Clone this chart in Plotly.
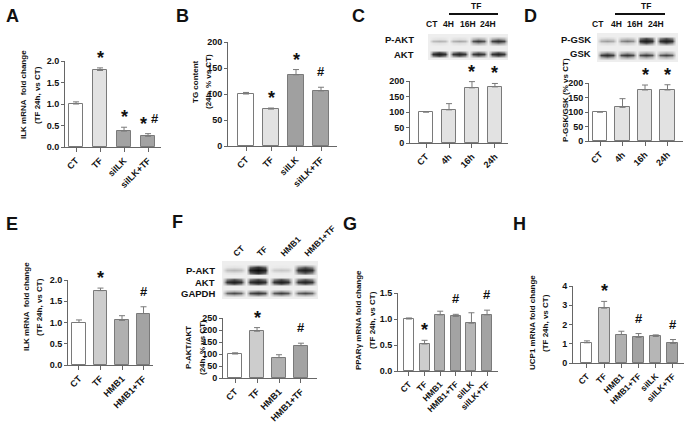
import plotly.graph_objects as go

W, H = 685, 422
FONT = "Arial, Liberation Sans, sans-serif"
INK = "#111111"
AXC = "#666666"

# ---------------- data ----------------
a_cats = ["CT", "TF", "siILK", "siILK+TF"]
a_vals = [1.0, 1.78, 0.37, 0.25]
a_errs = [0.05, 0.06, 0.09, 0.06]
a_marks = ["", "*", "*", "* #"]

b_cats = ["CT", "TF", "siILK", "siILK+TF"]
b_vals = [100, 71, 137, 106]
b_errs = [3, 2, 10, 7]
b_marks = ["", "*", "*", "#"]

c_cats = ["CT", "4h", "16h", "24h"]
c_vals = [100, 107, 178, 181]
c_errs = [0, 20, 20, 11]
c_marks = ["", "", "*", "*"]

d_cats = ["CT", "4h", "16h", "24h"]
d_vals = [100, 116, 176, 176]
d_errs = [0, 30, 17, 18]
d_marks = ["", "", "*", "*"]

e_cats = ["CT", "TF", "HMB1", "HMB1+TF"]
e_vals = [1.0, 1.75, 1.05, 1.21]
e_errs = [0.06, 0.06, 0.11, 0.16]
e_marks = ["", "*", "", "#"]

f_cats = ["CT", "TF", "HMB1", "HMB1+TF"]
f_vals = [100, 195, 85, 135]
f_errs = [5, 15, 12, 10]
f_marks = ["", "*", "", "#"]

g_cats = ["CT", "TF", "HMB1", "HMB1+TF", "siILK", "siILK+TF"]
g_vals = [1.0, 0.52, 1.08, 1.05, 0.92, 1.08]
g_errs = [0.02, 0.07, 0.07, 0.04, 0.20, 0.09]
g_marks = ["", "*", "", "#", "", "#"]

h_cats = ["CT", "TF", "HMB1", "HMB1+TF", "siILK", "siILK+TF"]
h_vals = [1.05, 2.85, 1.48, 1.33, 1.38, 1.02]
h_errs = [0.10, 0.35, 0.17, 0.20, 0.08, 0.20]
h_marks = ["", "*", "", "#", "", "#"]

# western blot band intensities (0 = none, 1 = saturated)
c_lanes = ["CT", "4H", "16H", "24H"]
c_pakt = [0.30, 0.35, 0.72, 0.78]
c_akt = [0.90, 0.85, 0.80, 0.85]
d_lanes = ["CT", "4H", "16H", "24H"]
d_pgsk = [0.38, 0.50, 0.90, 0.88]
d_gsk = [0.80, 0.75, 0.72, 0.68]
f_lanes = ["CT", "TF", "HMB1", "HMB1+TF"]
f_pakt = [0.28, 1.00, 0.20, 0.88]
f_akt = [0.88, 0.90, 0.88, 0.85]
f_gapdh = [0.65, 0.75, 0.70, 0.65]

# fills
col_ct = "#ffffff"
col_light = "#e2e2e2"
col_tf2 = "#cdcdcd"
col_hmb = "#b0b0b0"
col_dark = "#a3a3a3"
col_si = "#b6b6b6"

fig = go.Figure()
layout = {}
annotations = []
shapes = []
_n = [0]


def fx(p):
    return p / W


def fy(p):
    return 1 - p / H


def new_axes(x0, x1, ytop, ybot):
    _n[0] += 1
    n = _n[0]
    xk = "xaxis" if n == 1 else f"xaxis{n}"
    yk = "yaxis" if n == 1 else f"yaxis{n}"
    xr = "x" if n == 1 else f"x{n}"
    yr = "y" if n == 1 else f"y{n}"
    layout[xk] = dict(domain=[fx(x0), fx(x1)], anchor=yr, automargin=False)
    layout[yk] = dict(domain=[fy(ybot), fy(ytop)], anchor=xr,
                      automargin=False)
    return xk, yk, xr, yr


def mark(xr, yr, x, y, ch, xshift=0):
    if ch == "*":
        size, ysh = 18, -2
    else:
        size, ysh = 13, 6
    annotations.append(dict(
        x=x, y=y, xref=xr, yref=yr, text=ch, showarrow=False,
        yanchor="bottom", yshift=ysh, xshift=xshift,
        font=dict(family=FONT, size=size, color=INK, weight="bold")))


def bar_panel(cats, vals, errs, colors, marks, box, yrange, xrange, dtick, fmt,
              bw=0.62, xfs=9):
    x0, x1, ytop, ybot = box
    xk, yk, xr, yr = new_axes(x0, x1, ytop, ybot)
    xs = list(range(len(cats)))
    fig.add_trace(go.Bar(
        x=xs, y=vals, width=bw, xaxis=xr, yaxis=yr, showlegend=False,
        hoverinfo="skip",
        marker=dict(color=colors, line=dict(color="#7a7a7a", width=1)),
        error_y=dict(type="data", array=errs, arrayminus=[0] * len(errs),
                     symmetric=False, color="#7a7a7a", thickness=1, width=3),
    ))
    layout[xk].update(
        range=xrange, tickmode="array", tickvals=xs, ticktext=cats,
        tickangle=-45, ticks="outside", ticklen=4, tickcolor=AXC,
        showline=True, linecolor=AXC, linewidth=1, showgrid=False,
        zeroline=False, fixedrange=True,
        tickfont=dict(family=FONT, size=xfs, color=INK, weight="bold"))
    layout[yk].update(
        range=yrange, dtick=dtick, tickformat=fmt, ticks="outside", ticklen=3,
        tickcolor=AXC, showline=True, linecolor=AXC, linewidth=1,
        showgrid=False, zeroline=False, fixedrange=True,
        tickfont=dict(family=FONT, size=9, color=INK, weight="bold"))
    for i, m in enumerate(marks):
        top = vals[i] + errs[i]
        if m == "* #":
            mark(xr, yr, i, top, "*", xshift=-5)
            mark(xr, yr, i, top, "#", xshift=7)
        elif m:
            mark(xr, yr, i, top, m)


def blot(intens, box, xrange, lanes=None):
    x0, x1, ytop, ybot = box
    xk, yk, xr, yr = new_axes(x0, x1, ytop, ybot)
    xs, col = [], []
    for i, v in enumerate(intens):
        xs += [i - 0.5, i - 0.3, i, i + 0.3]
        col += [0.0, v * 0.85, v, v * 0.85]
    xs.append(len(intens) - 0.5)
    col.append(0.0)
    zero = [0.0] * len(col)
    edge = [c * c * 0.75 for c in col]
    z = [zero, zero, edge, col, edge, zero, zero]
    fig.add_trace(go.Heatmap(
        x=xs, y=list(range(len(z))), z=z, zmin=0, zmax=1, zsmooth="best",
        showscale=False, hoverinfo="skip", xaxis=xr, yaxis=yr,
        colorscale=[[0, "#eeeeee"], [0.3, "#b4b4b4"], [0.7, "#3c3c3c"],
                    [1, "#0a0a0a"]]))
    hidden = dict(visible=False, showgrid=False, zeroline=False,
                  fixedrange=True)
    if lanes:
        layout[xk].update(
            range=xrange, side="top", showline=False, showgrid=False,
            zeroline=False, fixedrange=True, ticks="", tickmode="array",
            tickvals=list(range(len(lanes))), ticktext=lanes, tickangle=-45,
            tickfont=dict(family=FONT, size=8.5, color=INK, weight="bold"))
    else:
        layout[xk].update(range=xrange, **hidden)
    layout[yk].update(range=[0, len(z) - 1], **hidden)
    return xr


def text(x, y, s, size=10, xanchor="center", yanchor="middle", angle=0):
    annotations.append(dict(
        x=fx(x), y=fy(y), xref="paper", yref="paper",
        text=s, showarrow=False, xanchor=xanchor, yanchor=yanchor,
        textangle=angle,
        font=dict(family=FONT, size=size, color=INK, weight="bold")))


def ytitle(xs, y, lines):
    for x, s in zip(xs, lines):
        text(x, y, s, size=8, angle=-90)


# ---------------- bar panels ----------------
bar_panel(a_cats, a_vals, a_errs, [col_ct, col_light, col_dark, col_dark],
          a_marks, (65, 161, 61, 147), [0, 2.0], [-0.46, 3.54], 0.5, ".1f")
bar_panel(b_cats, b_vals, b_errs, [col_ct, col_light, "#a0a0a0", col_dark],
          b_marks, (228, 337, 42, 146), [0, 200], [-0.72, 3.64], 50, "d",
          bw=0.64)
bar_panel(c_cats, c_vals, c_errs, [col_ct, col_light, col_light, col_light],
          c_marks, (410, 508, 81, 143), [0, 200], [-0.70, 3.57], 50, "d",
          bw=0.6)
bar_panel(d_cats, d_vals, d_errs, [col_ct, col_light, col_light, col_light],
          d_marks, (589, 683, 83, 141), [0, 200], [-0.49, 3.69], 50, "d",
          bw=0.64)
bar_panel(e_cats, e_vals, e_errs, [col_ct, col_tf2, col_hmb, col_dark],
          e_marks, (68, 153, 280, 365), [0, 2.0], [-0.51, 3.44], 0.5, ".1f",
          bw=0.64)
bar_panel(f_cats, f_vals, f_errs, [col_ct, col_tf2, col_hmb, col_dark],
          f_marks, (223, 317, 318, 378), [0, 250], [-0.55, 3.73], 50, "d",
          bw=0.64)
bar_panel(g_cats, g_vals, g_errs,
          [col_ct, col_tf2, col_hmb, col_dark, col_si, col_dark],
          g_marks, (398, 498, 293, 371), [0, 1.5], [-0.70, 5.70], 0.5, ".1f",
          bw=0.64, xfs=8.5)
bar_panel(h_cats, h_vals, h_errs,
          [col_ct, col_tf2, col_hmb, col_dark, col_si, col_dark],
          h_marks, (573, 684, 286, 363), [0, 4], [-0.81, 5.64], 1, "d",
          bw=0.64, xfs=8.5)

# ---------------- blots ----------------
blot(c_pakt, (428, 508, 34, 48), [-0.56, 3.5])
blot(c_akt, (428, 508, 48, 60), [-0.56, 3.5])
blot(d_pgsk, (597, 680, 33, 48), [-0.5, 3.7])
blot(d_gsk, (597, 680, 48, 62), [-0.5, 3.7])
blot(f_pakt, (222, 318, 261, 279), [-0.5, 3.55], lanes=f_lanes)
blot(f_akt, (222, 318, 275, 288), [-0.5, 3.55])
blot(f_gapdh, (222, 318, 287, 299), [-0.5, 3.55])

# blot labels
text(416, 40, "P-AKT", size=9.5, xanchor="right")
text(416, 55, "AKT", size=9.5, xanchor="right")
for lx, lab in zip([432, 448, 468, 488], c_lanes):
    text(lx, 24, lab, size=8.5)
text(476, 6, "TF", size=8.5)
shapes.append(dict(type="line", xref="paper", yref="paper", x0=fx(449),
                   x1=fx(498), y0=fy(14), y1=fy(14),
                   line=dict(color="#111111", width=2)))

text(593, 39, "P-GSK", size=9.5, xanchor="right")
text(593, 54, "GSK", size=9.5, xanchor="right")
for lx, lab in zip([598, 616, 635, 656], d_lanes):
    text(lx, 24, lab, size=8.5)
text(646, 6, "TF", size=8.5)
shapes.append(dict(type="line", xref="paper", yref="paper", x0=fx(615),
                   x1=fx(665), y0=fy(14), y1=fy(14),
                   line=dict(color="#111111", width=2)))

text(217, 270, "P-AKT", size=9.5, xanchor="right")
text(217, 282, "AKT", size=9.5, xanchor="right")
text(217, 293, "GAPDH", size=9.5, xanchor="right")

# ---------------- axis titles ----------------
ytitle([23, 37], 95, ["ILK mRNA  fold change", "(TF 24h, vs CT)"])
ytitle([195, 208], 82, ["TG content", "(24h, % vs CT)"])
ytitle([565], 100, ["P-GSK/GSK (% vs CT)"])
ytitle([26, 39], 307, ["ILK mRNA  fold change", "(TF 24h, vs CT)"])
ytitle([188, 202], 348, ["P-AKT/AKT", "(24h, % vs CT)"])
ytitle([358, 372], 320, ["PPARγ mRNA fold change", "(TF 24h, vs CT)"])
ytitle([532, 545], 323, ["UCP1 mRNA fold change", "(TF 24h, vs CT)"])

# ---------------- panel letters ----------------
for lx, ly, s in [(12, 16, "A"), (183, 16, "B"), (358, 16, "C"),
                  (530, 16, "D"), (12, 224, "E"), (177, 222, "F"),
                  (350, 224, "G"), (519, 224, "H")]:
    text(lx, ly, s, size=18)

fig.update_layout(
    width=W, height=H, autosize=False,
    margin=dict(l=0, r=0, t=0, b=0, pad=0, autoexpand=False),
    paper_bgcolor="white", plot_bgcolor="rgba(0,0,0,0)",
    showlegend=False, bargap=0, annotations=annotations, shapes=shapes,
    font=dict(family=FONT, color=INK),
    **layout)

fig.write_html("out.html", config={"displayModeBar": False},
               post_script="document.body.style.margin='0';"
                           "document.body.style.overflow='hidden';")
